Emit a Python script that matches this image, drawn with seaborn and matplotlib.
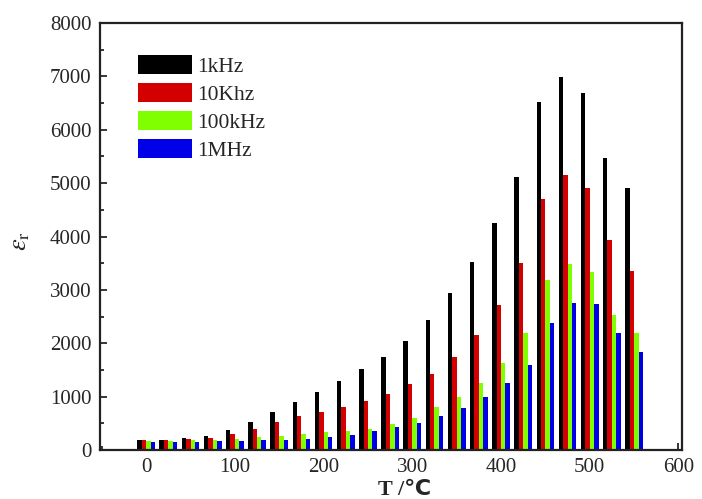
import numpy as np
import pandas as pd
import matplotlib
matplotlib.use("Agg")
import matplotlib.pyplot as plt
import seaborn as sns

# Temperature steps (°C) and permittivity at each measuring frequency
temperatures = [0, 25, 50, 75, 100, 125, 150, 175, 200, 225, 250, 275,
                300, 325, 350, 375, 400, 425, 450, 475, 500, 525, 550]
eps_1khz = [190, 190, 220, 270, 380, 520, 710, 900, 1090, 1290, 1520, 1740,
            2040, 2430, 2940, 3520, 4250, 5110, 6520, 6990, 6690, 5470, 4900]
eps_10khz = [180, 180, 200, 230, 310, 400, 520, 630, 710, 800, 920, 1060,
             1230, 1420, 1740, 2150, 2720, 3500, 4700, 5150, 4900, 3930, 3350]
eps_100khz = [170, 170, 180, 190, 210, 240, 270, 300, 330, 360, 400, 480,
              600, 800, 1000, 1250, 1630, 2190, 3180, 3480, 3340, 2530, 2190]
eps_1mhz = [160, 160, 160, 170, 170, 180, 190, 210, 240, 280, 350, 430,
            510, 630, 780, 990, 1250, 1590, 2380, 2760, 2740, 2190, 1840]

freq_labels = ["1kHz", "10Khz", "100kHz", "1MHz"]
freq_colors = ["#000000", "#d40000", "#80ff00", "#0000e8"]

x_ticks = [0, 100, 200, 300, 400, 500, 600]
y_ticks = [0, 1000, 2000, 3000, 4000, 5000, 6000, 7000, 8000]

frames = []
for lab, vals in zip(freq_labels, [eps_1khz, eps_10khz, eps_100khz, eps_1mhz]):
    frames.append(pd.DataFrame({"T": temperatures, "eps": vals, "freq": lab}))
df = pd.concat(frames, ignore_index=True)

sns.set_style("ticks")
plt.rcParams["font.family"] = ["Liberation Serif", "DejaVu Sans", "Noto Sans CJK SC"]
plt.rcParams["mathtext.fontset"] = "stix"

fig = plt.figure(figsize=(7.02, 4.99), dpi=100)
ax = fig.add_axes([0.1425, 0.098, 0.829, 0.856])

sns.barplot(data=df, x="T", y="eps", hue="freq", hue_order=freq_labels,
            palette=freq_colors, native_scale=True, width=0.8,
            linewidth=0, saturation=1, errorbar=None, ax=ax)

ax.set_xlim(-52, 604)
ax.set_ylim(0, 8000)
ax.set_xticks(x_ticks)
ax.set_yticks(y_ticks)
ax.set_yticks(np.arange(500, 8000, 1000), minor=True)
ax.set_xticks(np.arange(-50, 600, 100), minor=True)
ax.tick_params(which="both", direction="in", labelsize=15, width=1.3,
               top=False, right=False)
ax.tick_params(axis="y", pad=6)
ax.tick_params(axis="x", pad=6)
ax.tick_params(which="major", length=5)
ax.tick_params(which="minor", length=3)

for sp in ax.spines.values():
    sp.set_visible(True)
    sp.set_linewidth(1.6)
    sp.set_color("#222222")

ax.set_xlabel("T /℃", fontsize=16, fontweight="bold")
ax.xaxis.set_label_coords(0.524, -0.07)
ax.set_ylabel(r"$\varepsilon_{\mathrm{r}}$", fontsize=19)
ax.yaxis.set_label_coords(-0.117, 0.49)

handles, labels = ax.get_legend_handles_labels()
ax.legend(handles, labels, loc="upper left", bbox_to_anchor=(0.065, 0.925),
          frameon=False, fontsize=15.5, handlelength=2.5, handleheight=0.95,
          labelspacing=0.3, handletextpad=0.25, borderaxespad=0,
          borderpad=0)

fig.savefig("out.png", dpi=100)
